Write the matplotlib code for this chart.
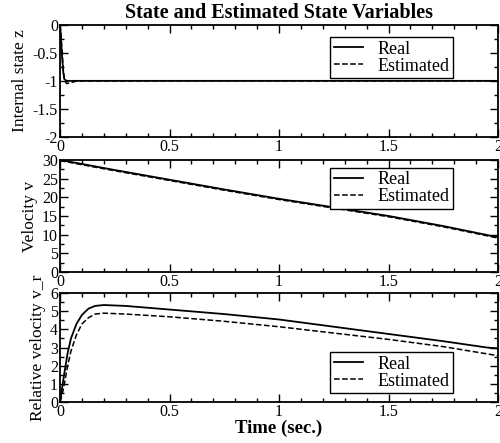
import numpy as np
import matplotlib
matplotlib.use("Agg")
import matplotlib.pyplot as plt
from matplotlib.ticker import MultipleLocator, FormatStrFormatter

plt.rcParams["font.family"] = ["Liberation Serif", "DejaVu Serif"]
plt.rcParams["axes.unicode_minus"] = False

# internal state z
t_z = [0, 0.005, 0.01, 0.015, 0.02, 0.03, 0.05, 0.08, 0.12, 2.0]
z_real = [0, -0.3, -0.6, -0.85, -0.97, -1.0, -1.0, -1.0, -1.0, -1.0]
z_est = [0, -0.2, -0.5, -0.8, -0.98, -1.05, -1.03, -1.0, -1.0, -1.0]

# velocity v
t_v = [0, 0.25, 0.5, 0.75, 1.0, 1.25, 1.5, 1.75, 2.0]
v_real = [30, 27.3, 24.7, 22.1, 19.6, 17.3, 15.0, 12.3, 9.3]
v_est = [29.8, 27.1, 24.5, 21.9, 19.4, 17.1, 14.8, 12.1, 9.1]

# relative velocity v_r
t_r = [0, 0.01, 0.02, 0.035, 0.05, 0.075, 0.1, 0.13, 0.16, 0.2, 0.3, 0.5,
       0.75, 1.0, 1.25, 1.5, 1.75, 1.95, 2.0]
vr_real = [0, 0.8, 1.6, 2.7, 3.5, 4.3, 4.8, 5.15, 5.3, 5.35, 5.3, 5.1,
           4.85, 4.55, 4.15, 3.75, 3.35, 3.0, 2.95]
vr_est = [0, 0.4, 1.0, 2.0, 2.8, 3.7, 4.3, 4.65, 4.85, 4.9, 4.85, 4.7,
          4.45, 4.15, 3.8, 3.45, 3.05, 2.65, 2.55]

fig = plt.figure(figsize=(5, 4.43), dpi=100)
ax1 = fig.add_axes([0.12, 0.691, 0.876, 0.253])
ax2 = fig.add_axes([0.12, 0.386, 0.876, 0.253])
ax3 = fig.add_axes([0.12, 0.093, 0.876, 0.245])


def style(ax, ymin, ymax, major, minor):
    ax.set_xlim(0, 2)
    ax.set_ylim(ymin, ymax)
    ax.xaxis.set_major_locator(MultipleLocator(0.5))
    ax.xaxis.set_minor_locator(MultipleLocator(0.1))
    ax.yaxis.set_major_locator(MultipleLocator(major))
    ax.yaxis.set_minor_locator(MultipleLocator(minor))
    ax.xaxis.set_major_formatter(FormatStrFormatter("%g"))
    ax.yaxis.set_major_formatter(FormatStrFormatter("%g"))
    ax.tick_params(which="both", direction="in", top=True, right=True,
                   labelsize=11.5, pad=1.5, width=1)
    ax.tick_params(which="major", length=6)
    ax.tick_params(which="minor", length=3)
    for s in ax.spines.values():
        s.set_linewidth(1.3)


def legend(ax, loc, anchor):
    leg = ax.legend(loc=loc, bbox_to_anchor=anchor, fontsize=13,
                    fancybox=False, framealpha=1, edgecolor="black",
                    handlelength=1.6, borderpad=0.2, labelspacing=0.0,
                    handletextpad=0.8, borderaxespad=0)
    leg.get_frame().set_linewidth(1.0)


ax1.plot(t_z, z_real, color="black", lw=1.3, label="Real")
ax1.plot(t_z, z_est, color="black", lw=1.1, ls="--", label="Estimated")
style(ax1, -2, 0, 0.5, 0.25)
ax1.set_ylabel("Internal state z", fontsize=12.5, labelpad=3)
legend(ax1, "upper right", (0.897, 0.89))
ax1.set_title("State and Estimated State Variables", fontsize=14.5,
              fontweight="bold", pad=5)

ax2.plot(t_v, v_real, color="black", lw=1.3, label="Real")
ax2.plot(t_v, v_est, color="black", lw=1.1, ls="--", label="Estimated")
style(ax2, 0, 30, 5, 2.5)
ax2.set_ylabel("Velocity v", fontsize=12.5, labelpad=3)
legend(ax2, "upper right", (0.897, 0.93))

ax3.plot(t_r, vr_real, color="black", lw=1.3, label="Real")
ax3.plot(t_r, vr_est, color="black", lw=1.1, ls="--", label="Estimated")
style(ax3, 0, 6, 1, 0.5)
ax3.set_ylabel("Relative velocity v_r", fontsize=12.5, labelpad=3)
ax3.set_xlabel("Time (sec.)", fontsize=13.5, fontweight="bold", labelpad=0)
legend(ax3, "lower right", (0.897, 0.08))

fig.savefig("out.png", dpi=100)
